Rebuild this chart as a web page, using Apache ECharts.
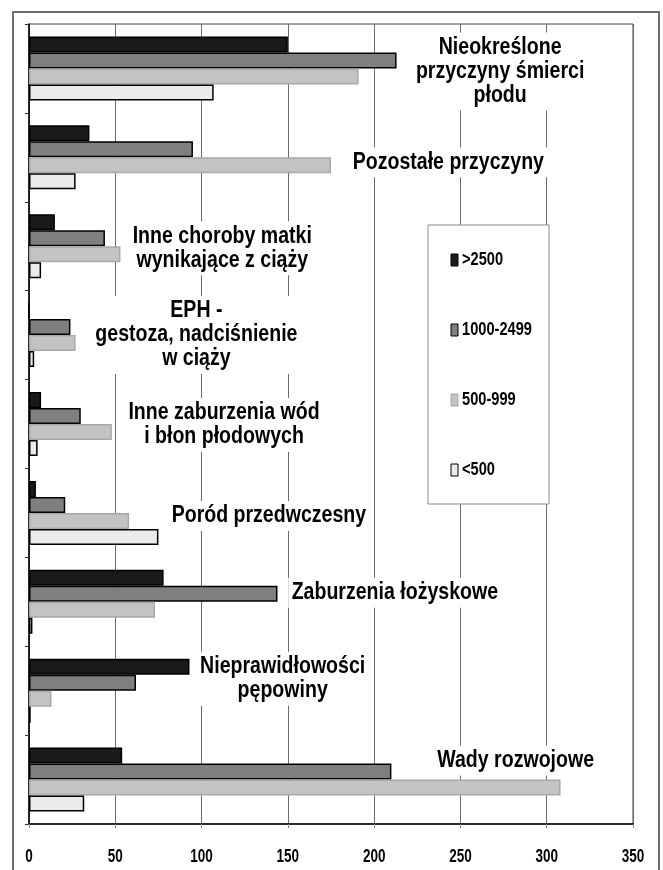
<!DOCTYPE html>
<html>
<head>
<meta charset="utf-8">
<script src="https://cdn.jsdelivr.net/npm/echarts@6/dist/echarts.min.js"></script>
<style>
  html, body { margin: 0; padding: 0; background: #fff; }
  #chart { width: 663px; height: 870px; }
</style>
</head>
<body>
<div id="chart"></div>
<script>
var FAMILY = "'Liberation Sans', Arial, sans-serif";

var categories = [
  "Nieokreślone przyczyny śmierci płodu",
  "Pozostałe przyczyny",
  "Inne choroby matki wynikające z ciąży",
  "EPH - gestoza, nadciśnienie w ciąży",
  "Inne zaburzenia wód i błon płodowych",
  "Poród przedwczesny",
  "Zaburzenia łożyskowe",
  "Nieprawidłowości pępowiny",
  "Wady rozwojowe"
];
// caption text as broken into lines in the picture
var categoryLines = [
  "Nieokreślone\nprzyczyny śmierci\npłodu",
  "Pozostałe przyczyny",
  "Inne choroby matki\nwynikające z ciąży",
  "EPH -\ngestoza, nadciśnienie\nw ciąży",
  "Inne zaburzenia wód\ni błon płodowych",
  "Poród przedwczesny",
  "Zaburzenia łożyskowe",
  "Nieprawidłowości\npępowiny",
  "Wady rozwojowe"
];
var seriesNames = [">2500", "1000-2499", "500-999", "<500"];
var over2500 = [150, 35, 15, 0, 7, 4, 78, 93, 54];
var from1000 = [213, 95, 44, 24, 30, 21, 144, 62, 210];
var from500 = [191, 175, 53, 27, 48, 58, 73, 13, 308];
var under500 = [107, 27, 7, 3, 5, 75, 2, 1, 32];
var xTicks = [0, 50, 100, 150, 200, 250, 300, 350];

// where each caption sits: centre along x (axis units), vertical nudge (px)
var captionX = [273, 243, 112, 97, 113, 139, 212, 147, 282];
var captionDy = [3, 5, 2, 0, 1, 3, -9, -12, -19];

var fills = ["#1a1a1a", "#7f7f7f", "#c3c3c3", "#ebebeb"];
var borders = ["#000", "#000", "#a8a8a8", "#000"];
var values = [over2500, from1000, from500, under500];

var chart = echarts.init(document.getElementById("chart"));

chart.setOption({
  backgroundColor: "#fff",
  animation: false,
  grid: {
    left: 29, right: 30, top: 24, bottom: 46,
    show: true, borderColor: "#444", borderWidth: 1
  },
  xAxis: {
    type: "value",
    min: xTicks[0],
    max: xTicks[xTicks.length - 1],
    interval: 50,
    axisLine: { show: true, lineStyle: { color: "#000", width: 1.5 } },
    axisTick: { show: true, length: 4, lineStyle: { color: "#888" } },
    splitLine: { show: true, lineStyle: { color: "#6a6a6a", width: 1 } },
    axisLabel: { show: false }
  },
  yAxis: {
    type: "category",
    inverse: true,
    data: categories,
    axisLine: { show: true, lineStyle: { color: "#000", width: 1.5 } },
    axisTick: { show: true, length: 4, lineStyle: { color: "#333" } },
    axisLabel: { show: false },
    splitLine: { show: false }
  },
  series: seriesNames.map(function (name, i) {
    return {
      name: name,
      type: "bar",
      data: values[i],
      barWidth: 16,
      barGap: "0%",
      itemStyle: { color: fills[i], borderColor: borders[i], borderWidth: 1.5 },
      emphasis: { disabled: true }
    };
  })
});

// bold text squeezed sideways, like the narrow face of the original
function narrowText(x, y, txt, size, squeeze, extra) {
  var el = {
    type: "text",
    x: x,
    y: y,
    scaleX: squeeze,
    silent: true,
    z: 4,
    style: {
      text: txt,
      fill: "#000",
      font: "bold " + size + "px " + FAMILY,
      align: "center",
      verticalAlign: "middle"
    }
  };
  if (extra) {
    for (var k in extra) {
      if (k === "style") {
        for (var s in extra.style) el.style[s] = extra.style[s];
      } else {
        el[k] = extra[k];
      }
    }
  }
  return el;
}

var graphics = [];

// outer frame
graphics.push({
  type: "rect",
  silent: true,
  z: 10,
  shape: { x: 13, y: 12, width: 646, height: 880 },
  style: { fill: "none", stroke: "#6e6e6e", lineWidth: 2 }
});

// category captions inside the plot, white behind them so grid lines break
categoryLines.forEach(function (txt, i) {
  var p = chart.convertToPixel({ gridIndex: 0 }, [captionX[i], i]);
  graphics.push(narrowText(p[0], p[1] + captionDy[i], txt, 23, 0.85, {
    z: 1,
    style: { lineHeight: 24, backgroundColor: "#fff", padding: [3, 4] }
  }));
});

// x tick labels under the bottom edge of the plot
var yFirst = chart.convertToPixel({ yAxisIndex: 0 }, 0);
var yLast = chart.convertToPixel({ yAxisIndex: 0 }, categories.length - 1);
var band = (yLast - yFirst) / (categories.length - 1);
var axisY = yLast + band / 2;
xTicks.forEach(function (v) {
  var px = chart.convertToPixel({ xAxisIndex: 0 }, v);
  graphics.push(narrowText(px, axisY + 33, String(v), 18.5, 0.73));
});

// legend box
var boxX = 428, boxY = 225, step = 70;
graphics.push({
  type: "rect",
  silent: true,
  z: 3,
  shape: { x: boxX, y: boxY, width: 121, height: 279 },
  style: { fill: "#fff", stroke: "#8a8a8a", lineWidth: 1 }
});
seriesNames.forEach(function (name, i) {
  var cy = boxY + 35 + i * step;
  graphics.push({
    type: "rect",
    silent: true,
    z: 4,
    shape: { x: boxX + 23, y: cy - 6, width: 7, height: 12 },
    style: { fill: fills[i], stroke: borders[i], lineWidth: 1 }
  });
  graphics.push(narrowText(boxX + 34, cy, name, 18.5, 0.79, {
    style: { align: "left" }
  }));
});

chart.setOption({ graphic: graphics });
</script>
</body>
</html>
